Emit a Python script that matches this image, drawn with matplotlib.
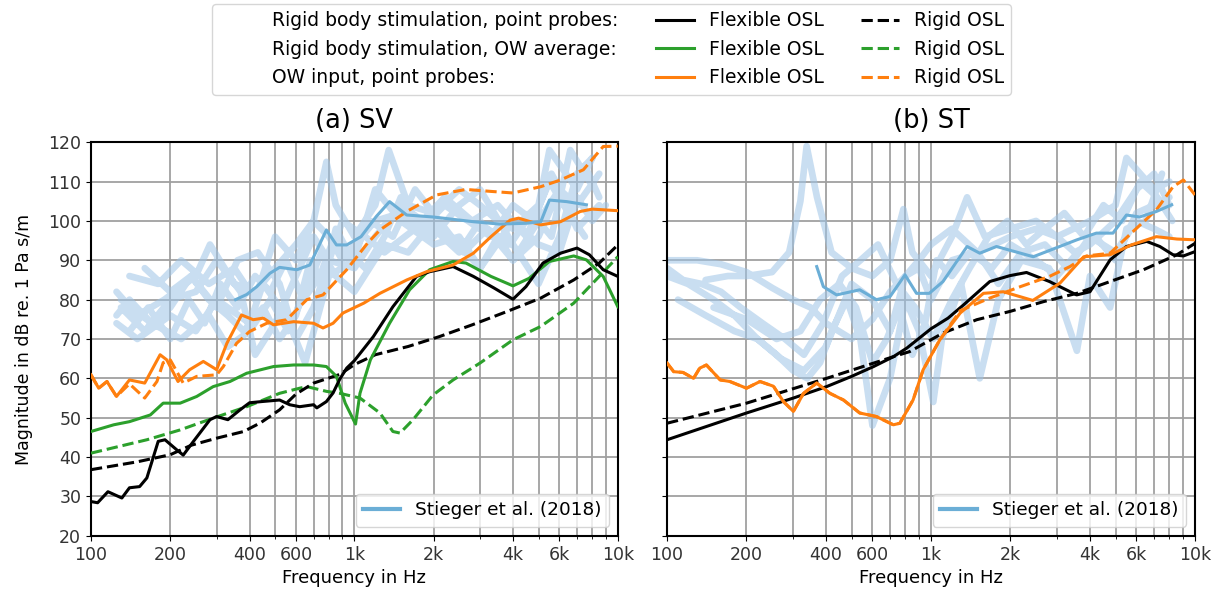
import matplotlib
matplotlib.use("Agg")
import matplotlib.pyplot as plt
from matplotlib.lines import Line2D

_BLACK = "black"
_GREEN = "#2ca02c"
_ORANGE = "#ff7f0e"
_MEAN = "#6baed6"
_BG = "#9dc3e6"

# ---- (a) SV ----
sv_pp_flex_f = [100, 106, 116, 131, 140, 153, 163, 180, 191, 212, 224, 245, 283, 300, 331, 368, 400, 444,
                520, 568, 620, 700, 720, 783, 830, 880, 935, 1000, 1180, 1400, 1720, 1930, 2370, 2830,
                3380, 4000, 4480, 5200, 6060, 7000, 7800, 8800, 10000]
sv_pp_flex_db = [28.7, 28.4, 31.2, 29.6, 32.2, 32.5, 34.7, 44.0, 44.4, 41.8, 40.5, 44.0, 49.5, 50.3, 49.5, 52.0,
                 53.8, 54.1, 54.5, 53.3, 52.8, 53.3, 52.5, 54.1, 56.3, 59.8, 62.6, 64.5, 70.6, 78.2, 85.9, 87.1,
                 88.4, 85.9, 83.0, 80.1, 83.3, 89.3, 91.8, 93.1, 91.4, 87.6, 85.9]
sv_pp_rigid_f = [100, 150, 200, 240, 300, 380, 440, 520, 600, 700, 880, 1000, 1200, 1600, 2100, 2800, 3800,
                 5100, 6800, 8500, 10000]
sv_pp_rigid_db = [36.8, 38.8, 40.6, 43.0, 44.8, 46.5, 48.7, 52.0, 56.0, 58.8, 61.0, 63.5, 66.0, 68.1, 70.6,
                  73.6, 77.0, 80.4, 85.0, 89.3, 93.9]
sv_ow_flex_f = [100, 122, 140, 168, 188, 218, 252, 291, 337, 390, 493, 588, 700, 783, 855, 923, 1010, 1050,
                1150, 1360, 1620, 1930, 2370, 2650, 3300, 4000, 4600, 5500, 6800, 7600, 8800, 10000]
sv_ow_flex_db = [46.5, 48.2, 49.0, 50.7, 53.7, 53.7, 55.4, 57.9, 59.2, 61.3, 63.0, 63.4, 63.4, 63.0, 60.5,
                 53.7, 48.4, 56.2, 64.7, 74.0, 82.5, 87.6, 89.7, 89.3, 85.9, 83.5, 85.4, 89.7, 91.1, 90.1,
                 85.9, 78.2]
sv_ow_rigid_f = [100, 163, 218, 291, 390, 520, 620, 660, 783, 880, 1050, 1250, 1400, 1490, 1670, 1990, 2370,
                 3000, 4000, 5100, 6800, 8500, 10000]
sv_ow_rigid_db = [41.0, 44.4, 46.9, 49.9, 52.8, 56.2, 57.5, 57.9, 56.7, 56.2, 55.0, 51.2, 46.5, 46.1, 49.5,
                  55.8, 59.6, 63.9, 69.8, 73.2, 79.1, 85.9, 90.9]
sv_owin_flex_f = [100, 107, 115, 125, 140, 160, 183, 194, 214, 237, 267, 300, 328, 373, 413, 451, 493, 588,
                  700, 760, 830, 905, 1085, 1250, 1580, 1880, 2370, 2830, 3300, 3900, 4200, 5100, 6060, 7200,
                  8000, 10000]
sv_owin_flex_db = [60.9, 57.5, 59.2, 55.4, 59.6, 58.8, 66.0, 64.7, 59.2, 62.2, 64.3, 62.2, 68.9, 76.1, 74.9,
                   75.3, 73.6, 74.4, 74.0, 72.8, 74.0, 76.6, 79.1, 81.6, 85.0, 87.1, 88.8, 91.8, 96.0, 100.2,
                   100.7, 99.0, 99.8, 102.4, 103.0, 102.6]
sv_owin_rigid_f = [100, 107, 115, 125, 140, 160, 178, 188, 200, 224, 252, 300, 318, 357, 400, 465, 553, 660,
                   760, 935, 1120, 1250, 1580, 2050, 2650, 3300, 4000, 5100, 6060, 7400, 8800, 10000]
sv_owin_rigid_db = [60.9, 57.5, 59.2, 55.4, 58.6, 55.0, 59.2, 64.0, 64.7, 58.8, 60.5, 60.9, 63.0, 68.9, 71.9,
                    74.0, 74.9, 80.0, 81.2, 87.6, 94.3, 97.7, 102.4, 106.6, 108.0, 107.5, 107.1, 108.7, 110.4,
                    113.0, 118.9, 119.0]
sv_mean_f = [354, 390, 426, 478, 520, 605, 677, 783, 855, 935, 1060, 1210, 1360, 1580, 1990, 2830, 3550, 4480,
             5100, 5500, 6400, 7600]
sv_mean_db = [80.0, 81.3, 83.3, 86.7, 88.2, 87.6, 88.8, 97.7, 93.9, 93.9, 96.0, 101.1, 104.9, 101.5, 101.0,
              99.8, 99.2, 99.4, 99.8, 105.3, 104.9, 104.1]

sv_bg_f = [
    [125, 150, 190, 250, 283, 350, 420, 500, 600, 700, 783, 850, 1000, 1200, 1350, 1600, 2000, 2500, 3000,
     3500, 4000, 5000, 5500, 7000, 8000],
    [130, 160, 200, 250, 300, 370, 420, 500, 600, 700, 800, 1000, 1200, 1500, 2000, 2500, 3000, 4000, 5000,
     6000, 7000, 8500],
    [125, 150, 200, 250, 300, 400, 450, 550, 650, 800, 1000, 1200, 1500, 2000, 2500, 3000, 4000, 5000, 6000,
     7000, 8000, 9000],
    [140, 180, 220, 280, 350, 420, 500, 600, 700, 800, 900, 1000, 1200, 1500, 2000, 2500, 3000, 4000, 5000,
     6000, 7000, 8000],
    [130, 170, 220, 280, 330, 400, 480, 560, 650, 750, 850, 1000, 1300, 1600, 2000, 2500, 3000, 3500, 4000,
     5000, 6000, 7000, 8500],
    [160, 200, 240, 300, 360, 430, 520, 600, 700, 900, 1100, 1300, 1700, 2200, 2800, 3500, 4500, 5500, 6500,
     7500],
    [125, 140, 170, 200, 240, 280, 330, 380, 450, 520, 600, 680, 760, 850, 950, 1100, 1300, 1500, 1800, 2200,
     2700, 3300, 4000, 4800, 5600, 6500, 7500, 8500],
    [140, 165, 200, 235, 270, 310, 360, 420, 480, 550, 640, 740, 840, 960, 1150, 1400, 1700, 2100, 2600, 3200,
     3900, 4700, 5600, 6600, 7800],
]
sv_bg_db = [
    [82, 76, 80, 86, 94, 84, 82, 88, 94, 100, 115, 104, 96, 104, 118, 104, 102, 108, 104, 100, 98, 104, 118,
     108, 116],
    [78, 72, 80, 82, 90, 82, 66, 74, 86, 96, 90, 88, 96, 104, 98, 92, 100, 90, 96, 108, 104, 112],
    [74, 70, 76, 72, 80, 74, 84, 76, 64, 86, 90, 108, 100, 94, 96, 88, 100, 94, 92, 106, 100, 104],
    [86, 84, 90, 84, 88, 80, 96, 90, 100, 96, 90, 94, 100, 102, 96, 104, 108, 94, 84, 96, 112, 116],
    [80, 74, 70, 76, 68, 72, 80, 72, 82, 92, 86, 82, 94, 92, 100, 94, 88, 96, 90, 100, 108, 98, 104],
    [88, 82, 86, 78, 90, 92, 84, 70, 78, 100, 96, 92, 98, 106, 100, 104, 96, 110, 102, 96],
    [76, 80, 74, 78, 86, 80, 76, 72, 78, 70, 76, 90, 84, 98, 92, 88, 96, 106, 98, 104, 100, 96, 104, 100, 112,
     104, 114, 106],
    [72, 78, 70, 80, 74, 84, 78, 86, 82, 90, 80, 86, 96, 90, 100, 96, 108, 100, 92, 98, 94, 102, 96, 118, 110],
]

# ---- (b) ST ----
st_pp_flex_f = [100, 200, 301, 402, 500, 606, 720, 810, 1000, 1160, 1330, 1670, 1990, 2300, 2810, 3560, 4000,
                4770, 5500, 6560, 7360, 8260, 9040, 10000]
st_pp_flex_db = [44.4, 51.2, 55.0, 57.9, 60.5, 63.0, 65.5, 67.7, 72.6, 75.3, 78.7, 84.6, 86.1, 86.9, 84.6,
                 81.2, 82.0, 90.1, 93.5, 94.8, 93.5, 91.4, 91.1, 92.2]
st_pp_rigid_f = [100, 200, 402, 720, 830, 1110, 1490, 1990, 2670, 3570, 4770, 6380, 8540, 10000]
st_pp_rigid_db = [48.6, 53.7, 60.0, 65.5, 66.8, 71.5, 74.9, 77.0, 79.5, 81.6, 84.6, 87.6, 91.4, 94.3]
st_owin_flex_f = [100, 106, 115, 126, 133, 141, 159, 173, 200, 225, 253, 276, 301, 329, 369, 414, 466, 537,
                  621, 720, 762, 855, 934, 1080, 1290, 1580, 1880, 2430, 3080, 3790, 4770, 5740, 7140, 8540,
                  10000]
st_owin_flex_db = [63.9, 61.7, 61.5, 60.0, 62.6, 63.4, 59.6, 59.2, 57.5, 59.2, 58.0, 54.1, 51.6, 56.2, 58.8,
                   56.2, 54.5, 51.2, 50.3, 48.2, 48.6, 54.5, 62.2, 69.8, 76.6, 81.6, 82.0, 79.8, 84.2, 90.9,
                   91.4, 93.9, 96.0, 95.4, 95.2]
st_owin_rigid_f = [100, 106, 115, 126, 133, 141, 159, 173, 200, 225, 253, 276, 301, 329, 369, 414, 466, 537,
                   621, 720, 762, 855, 934, 1080, 1290, 1670, 2180, 2810, 3360, 3880, 4770, 5740, 7140, 8260,
                   9040, 10000]
st_owin_rigid_db = [63.9, 61.7, 61.5, 60.0, 62.6, 63.4, 59.6, 59.2, 57.5, 59.2, 58.0, 54.1, 51.6, 56.2, 58.8,
                    56.2, 54.5, 51.2, 50.3, 48.2, 48.6, 54.5, 62.2, 69.8, 77.2, 80.4, 83.3, 85.9, 88.4, 91.1,
                    91.8, 96.9, 102.8, 108.7, 110.4, 106.6]
st_mean_f = [369, 391, 439, 537, 621, 700, 797, 881, 985, 1110, 1370, 1530, 1770, 2440, 3570, 4230, 4890,
             5500, 6170, 7140, 8160]
st_mean_db = [88.4, 83.3, 81.2, 82.5, 80.0, 80.8, 86.3, 81.6, 81.6, 84.6, 93.5, 91.8, 93.5, 90.9, 95.2, 96.9,
              96.9, 101.5, 101.0, 102.4, 104.1]

st_bg_f = [
    [100, 130, 160, 200, 250, 300, 350, 400, 500, 600, 700, 800, 900, 1000, 1200, 1500, 2000, 2500, 3000,
     4000, 5000, 5500, 7000, 8000],
    [140, 170, 200, 250, 290, 320, 338, 370, 420, 500, 600, 700, 786, 850, 1000, 1200, 1370, 1600, 2000,
     2500, 3000, 3500, 4000, 5000, 6000, 7000, 8000],
    [110, 140, 180, 220, 260, 300, 340, 380, 420, 480, 540, 600, 700, 800, 900, 1020, 1100, 1300, 1530,
     1800, 2200, 2800, 3570, 4000, 4770, 5500, 6500, 7500],
    [100, 120, 150, 180, 220, 270, 330, 400, 500, 600, 700, 800, 900, 1000, 1200, 1500, 1800, 2200, 2700,
     3300, 4000, 5000, 6000, 7000, 8000],
    [150, 200, 260, 320, 380, 450, 520, 600, 680, 760, 850, 950, 1050, 1200, 1400, 1700, 2000, 2500, 3000,
     3600, 4200, 5000, 6000, 7000, 8000],
    [100, 115, 135, 160, 190, 230, 280, 330, 390, 460, 540, 630, 740, 870, 1020, 1200, 1400, 1650, 1950,
     2300, 2700, 3200, 3800, 4500, 5300, 6200, 7200, 8200],
]
st_bg_db = [
    [90, 90, 89, 87, 83, 80, 78, 74, 70, 75, 82, 86, 90, 94, 98, 92, 96, 98, 96, 100, 104, 116, 108, 110],
    [85, 86, 86, 87, 92, 105, 119, 106, 92, 88, 86, 90, 103, 92, 86, 96, 106, 96, 98, 100, 96, 92, 94, 100,
     108, 112, 104],
    [80, 76, 72, 70, 66, 62, 60, 64, 72, 80, 70, 48, 60, 80, 72, 54, 70, 84, 60, 80, 90, 88, 67, 86, 78, 98,
     100, 112],
    [86, 84, 80, 76, 70, 65, 62, 68, 84, 80, 72, 86, 88, 80, 90, 92, 84, 92, 94, 88, 96, 92, 100, 98, 96],
    [78, 75, 70, 72, 80, 84, 78, 64, 70, 78, 66, 74, 90, 86, 92, 88, 94, 90, 86, 92, 96, 90, 102, 104, 106],
    [88, 85, 84, 82, 78, 74, 70, 66, 74, 86, 90, 94, 84, 78, 70, 80, 88, 96, 100, 94, 98, 102, 96, 104, 100,
     110, 106, 100],
]

xticks = [100, 200, 400, 600, 1000, 2000, 4000, 6000, 10000]
xticklabels = ["100", "200", "400", "600", "1k", "2k", "4k", "6k", "10k"]
yticks = list(range(20, 121, 10))


def _style_ax(ax, title):
    ax.set_xscale("log")
    ax.set_xlim(100, 10000)
    ax.set_ylim(20, 120)
    ax.set_xticks(xticks)
    ax.set_xticklabels(xticklabels)
    ax.set_yticks(yticks)
    ax.tick_params(labelsize=12.5, labelcolor="#333333")
    ax.grid(True, which="both", color="#a0a0a0", linewidth=1.3, zorder=0)
    ax.set_axisbelow(True)
    ax.set_title(title, fontsize=18.5, pad=10)
    ax.set_xlabel("Frequency in Hz", fontsize=13)
    for s in ax.spines.values():
        s.set_linewidth(1.5)


def _draw(ax, bg_f, bg_db, mean_f, mean_db, curves):
    # all background traces in one path so overlaps do not darken
    xs, ys = [], []
    for f, d in zip(bg_f, bg_db):
        xs += f + [float("nan")]
        ys += d + [float("nan")]
    ax.plot(xs, ys, color=_BG, alpha=0.55, lw=4.8, solid_capstyle="round",
            solid_joinstyle="round", zorder=1)
    for f, d, c, ls in curves:
        ax.plot(f, d, color=c, ls=ls, lw=2.2, zorder=3)
    ax.plot(mean_f, mean_db, color=_MEAN, lw=2.2, zorder=4)
    ax.legend([Line2D([], [], color=_MEAN, lw=3)], ["Stieger et al. (2018)"], loc="lower right",
              fontsize=13.3, framealpha=0.8)


fig = plt.figure(figsize=(12.21, 6), dpi=100)
ax1 = fig.add_axes([0.0745, 0.107, 0.4315, 0.656])
ax2 = fig.add_axes([0.5463, 0.107, 0.4324, 0.656], sharey=ax1)

_draw(ax1, sv_bg_f, sv_bg_db, sv_mean_f, sv_mean_db, [
    (sv_ow_rigid_f, sv_ow_rigid_db, _GREEN, "--"),
    (sv_pp_rigid_f, sv_pp_rigid_db, _BLACK, "--"),
    (sv_ow_flex_f, sv_ow_flex_db, _GREEN, "-"),
    (sv_pp_flex_f, sv_pp_flex_db, _BLACK, "-"),
    (sv_owin_rigid_f, sv_owin_rigid_db, _ORANGE, "--"),
    (sv_owin_flex_f, sv_owin_flex_db, _ORANGE, "-"),
])
_draw(ax2, st_bg_f, st_bg_db, st_mean_f, st_mean_db, [
    (st_pp_rigid_f, st_pp_rigid_db, _BLACK, "--"),
    (st_pp_flex_f, st_pp_flex_db, _BLACK, "-"),
    (st_owin_rigid_f, st_owin_rigid_db, _ORANGE, "--"),
    (st_owin_flex_f, st_owin_flex_db, _ORANGE, "-"),
])
_style_ax(ax1, "(a) SV")
_style_ax(ax2, "(b) ST")
ax1.set_ylabel("Magnitude in dB re. 1 Pa s/m", fontsize=12.5, labelpad=11)
plt.setp(ax2.get_yticklabels(), visible=False)

blank = Line2D([], [], color="none")
handles = [blank, blank, blank,
           Line2D([], [], color=_BLACK, lw=2.2), Line2D([], [], color=_GREEN, lw=2.2),
           Line2D([], [], color=_ORANGE, lw=2.2),
           Line2D([], [], color=_BLACK, lw=2.2, ls="--"), Line2D([], [], color=_GREEN, lw=2.2, ls="--"),
           Line2D([], [], color=_ORANGE, lw=2.2, ls="--")]
labels = ["Rigid body stimulation, point probes:", "Rigid body stimulation, OW average:",
          "OW input, point probes:", "Flexible OSL", "Flexible OSL", "Flexible OSL",
          "Rigid OSL", "Rigid OSL", "Rigid OSL"]
fig.legend(handles, labels, ncol=3, loc="upper center", bbox_to_anchor=(0.501, 1.009), fontsize=13.5)

fig.savefig("out.png")
